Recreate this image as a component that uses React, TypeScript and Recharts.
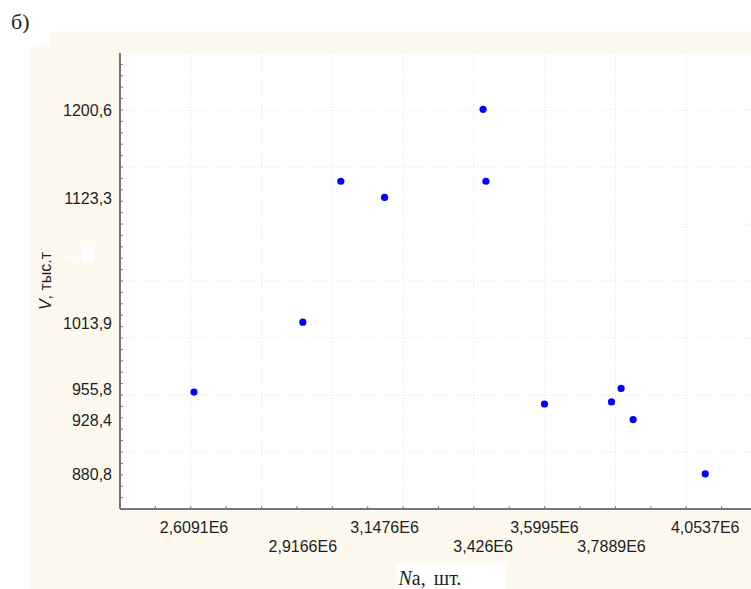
import { ScatterChart, Scatter, XAxis, YAxis, CartesianGrid, Label } from 'recharts';

// Na (pieces) against V (thousand tonnes)
const NA_VALUES = [2609100, 2916600, 3024000, 3147600, 3426000, 3434000, 3599500, 3788900, 3816000, 3850000, 4053700];
const V_VALUES = [952.6, 1013.9, 1137.5, 1123.3, 1200.6, 1137.5, 942.1, 943.9, 955.8, 928.4, 880.8];

// values printed along the axes
const X_LABELS = [2609100, 2916600, 3147600, 3426000, 3599500, 3788900, 4053700];
const Y_LABELS = [880.8, 928.4, 955.8, 1013.9, 1123.3, 1200.6];

// dotted grid lines
const X_GRID = [2600000, 2800000, 3000000, 3200000, 3400000, 3600000, 3800000, 4000000];
const Y_GRID = [900, 950, 1000, 1050, 1100, 1150, 1200];

const X_DOMAIN: [number, number] = [2400000, 4200000];
const Y_DOMAIN: [number, number] = [850, 1250];
const X_STEP = 100000; // small tick marks
const Y_STEP = 10;

const CREAM = '#fef9ee';
const AXIS = '#767676';
const TEXT = '#1e1e1e';
const SANS = '"Liberation Sans", Arial, sans-serif';
const SERIF = '"Liberation Serif", "Times New Roman", serif';

const data = NA_VALUES.map((x, i) => ({ x, y: V_VALUES[i] }));

function marks(domain: [number, number], step: number) {
  const out: number[] = [];
  for (let v = domain[0] + step; v < domain[1]; v += step) out.push(v);
  return out;
}
const X_MARKS = marks(X_DOMAIN, X_STEP);
const Y_MARKS = marks(Y_DOMAIN, Y_STEP);

const fmtX = (v: number) => String(v / 1e6).replace('.', ',') + 'E6';
const fmtY = (v: number) => v.toFixed(1).replace('.', ',');

function BottomTick({ x, y, payload }: any) {
  const v = payload.value;
  const li = X_LABELS.indexOf(v);
  if (li >= 0) {
    // labels alternate between two rows
    return (
      <text x={x} y={y + (li % 2 ? 42.5 : 24)} textAnchor="middle" fontFamily={SANS} fontSize={16} fill={TEXT}>
        {fmtX(v)}
      </text>
    );
  }
  return <line x1={x} x2={x} y1={y} y2={y - 3} stroke={AXIS} strokeWidth={1} />;
}

function TopTick({ x, y }: any) {
  return <line x1={x} x2={x} y1={y} y2={y + 3} stroke={AXIS} strokeWidth={1} />;
}

function LeftTick({ x, y, payload }: any) {
  const v = payload.value;
  if (Y_LABELS.includes(v)) {
    return (
      <text x={x - 8} y={y + 1} dy="0.35em" textAnchor="end" fontFamily={SANS} fontSize={16} fill={TEXT}>
        {fmtY(v)}
      </text>
    );
  }
  return <line x1={x} x2={x + 3} y1={y} y2={y} stroke={AXIS} strokeWidth={1} />;
}

function YTitle({ viewBox }: any) {
  const x = viewBox.x + 21;
  const y = viewBox.y + viewBox.height / 2;
  return (
    <g>
      <rect x={viewBox.x + 52} y={247} width={12} height={15} fill="#fff" />
      <rect x={viewBox.x + 37} y={257} width={6} height={2.5} fill="#fff" />
      <text transform={`translate(${x},${y}) rotate(-90)`} textAnchor="middle" fontFamily={SANS} fontSize={16} fill={TEXT}>
        <tspan fontStyle="italic">V</tspan>
        <tspan>, тыс.т</tspan>
      </text>
    </g>
  );
}

function XTitle({ viewBox }: any) {
  const cx = viewBox.x + viewBox.width / 2;
  return (
    <g>
      <rect x={cx - 42} y={563} width={109} height={26} fill="#fff" />
      <text x={cx - 40} y={585} fontFamily={SERIF} fontSize={20} fill={TEXT}>
        <tspan fontStyle="italic">N</tspan>
        <tspan>а,</tspan>
        <tspan dx={8}>шт.</tspan>
      </text>
    </g>
  );
}

export default function App() {
  return (
    <div
      style={{
        position: 'fixed',
        left: 0,
        top: 0,
        width: 751,
        height: 589,
        overflow: 'hidden',
        background: '#fff',
      }}
    >
      <div style={{ position: 'absolute', left: 50, top: 31, right: 0, height: 14, background: CREAM }} />
      <div style={{ position: 'absolute', left: 30, top: 45, right: 0, bottom: 0, background: CREAM }} />
      <div
        style={{
          position: 'absolute',
          left: 11,
          top: 11,
          fontFamily: SERIF,
          fontSize: 22,
          lineHeight: '22px',
          color: TEXT,
        }}
      >
        б)
      </div>
      <div style={{ position: 'absolute', left: 0, top: 0 }}>
        <ScatterChart width={780} height={589} margin={{ top: 53, right: 23, bottom: 0, left: 30 }}>
          <CartesianGrid
            fill="#fff"
            stroke="#e4e4e4"
            strokeDasharray="1 2"
            verticalValues={X_GRID}
            horizontalValues={Y_GRID}
          />
          <XAxis
            dataKey="x"
            type="number"
            domain={X_DOMAIN}
            ticks={[...X_MARKS, ...X_LABELS]}
            interval={0}
            height={80}
            tickSize={0}
            tickMargin={0}
            tickLine={false}
            axisLine={{ stroke: AXIS, strokeWidth: 2 }}
            tick={BottomTick}
          >
            <Label content={XTitle} />
          </XAxis>
          <XAxis
            xAxisId="top"
            orientation="top"
            dataKey="x"
            type="number"
            domain={X_DOMAIN}
            ticks={X_MARKS}
            interval={0}
            height={0}
            tickSize={0}
            tickMargin={0}
            tickLine={false}
            axisLine={{ stroke: AXIS, strokeWidth: 2 }}
            tick={TopTick}
          />
          <YAxis
            dataKey="y"
            type="number"
            domain={Y_DOMAIN}
            ticks={[...Y_MARKS, ...Y_LABELS]}
            interval={0}
            width={90}
            tickSize={0}
            tickMargin={0}
            tickLine={false}
            axisLine={{ stroke: AXIS, strokeWidth: 2 }}
            tick={LeftTick}
          >
            <Label content={YTitle} />
          </YAxis>
          <Scatter
            data={data}
            isAnimationActive={false}
            shape={(p: any) => <circle cx={p.cx} cy={p.cy} r={3.6} fill="#0000ff" />}
          />
        </ScatterChart>
      </div>
    </div>
  );
}
